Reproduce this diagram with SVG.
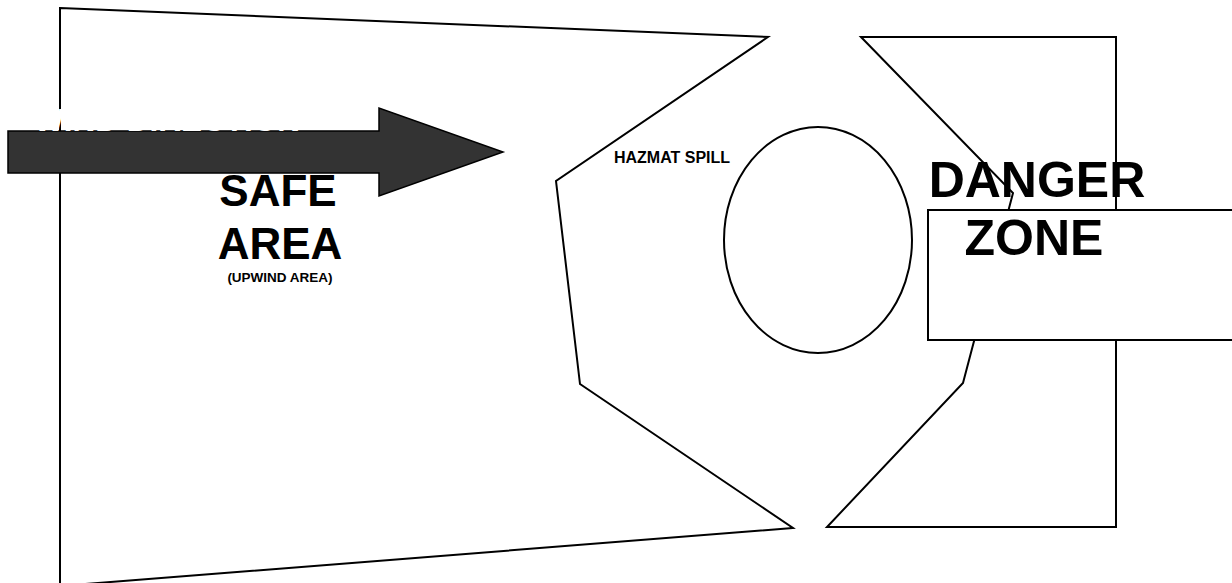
<svg xmlns="http://www.w3.org/2000/svg" width="1232" height="583" viewBox="0 0 1232 583">
<style>
.ln{fill:none;stroke:#000;stroke-width:2;stroke-linejoin:miter}
.t{font-family:"Liberation Sans",Arial,sans-serif;font-weight:bold;fill:#000}
</style>
<rect x="0" y="0" width="1232" height="583" fill="#fff"/>
<g id="safe-area">
<polygon class="ln" points="60,8 768,37 556,181 580,384 793,528 60,586"/>
</g>
<g id="danger-area">
<polygon class="ln" points="861,37 1013,193 963,383 827,527 1116,527 1116,37"/>
</g>
<g id="hazmat-spill">
<ellipse cx="818" cy="240" rx="94" ry="113" class="ln"/>
<text class="t" x="672" y="163" font-size="16" text-anchor="middle">HAZMAT SPILL</text>
</g>
<g id="danger-box">
<rect x="928" y="210" width="310" height="130" fill="#fff" stroke="#000" stroke-width="2"/>
</g>
<g id="labels">
<text class="t" x="278" y="206" font-size="44" text-anchor="middle">SAFE</text>
<text class="t" x="280" y="259" font-size="44" text-anchor="middle">AREA</text>
<text class="t" x="280" y="282" font-size="13.5" text-anchor="middle">(UPWIND AREA)</text>
<text class="t" x="1037" y="197" font-size="50" text-anchor="middle">DANGER</text>
<text class="t" x="1034" y="255" font-size="50" text-anchor="middle">ZONE</text>
</g>
<g id="connectors">
<g id="wind-arrow">
<polygon points="8,131 379,131 379,108 503,152 379,196 379,173 8,173" fill="#333333" stroke="#000" stroke-width="1.5"/>
<text x="167" y="131" font-size="31.5" text-anchor="middle" font-family="Liberation Sans,Arial,sans-serif" font-weight="bold" fill="#fff">WIND DIRECTION</text>
</g>
</g>
</svg>
